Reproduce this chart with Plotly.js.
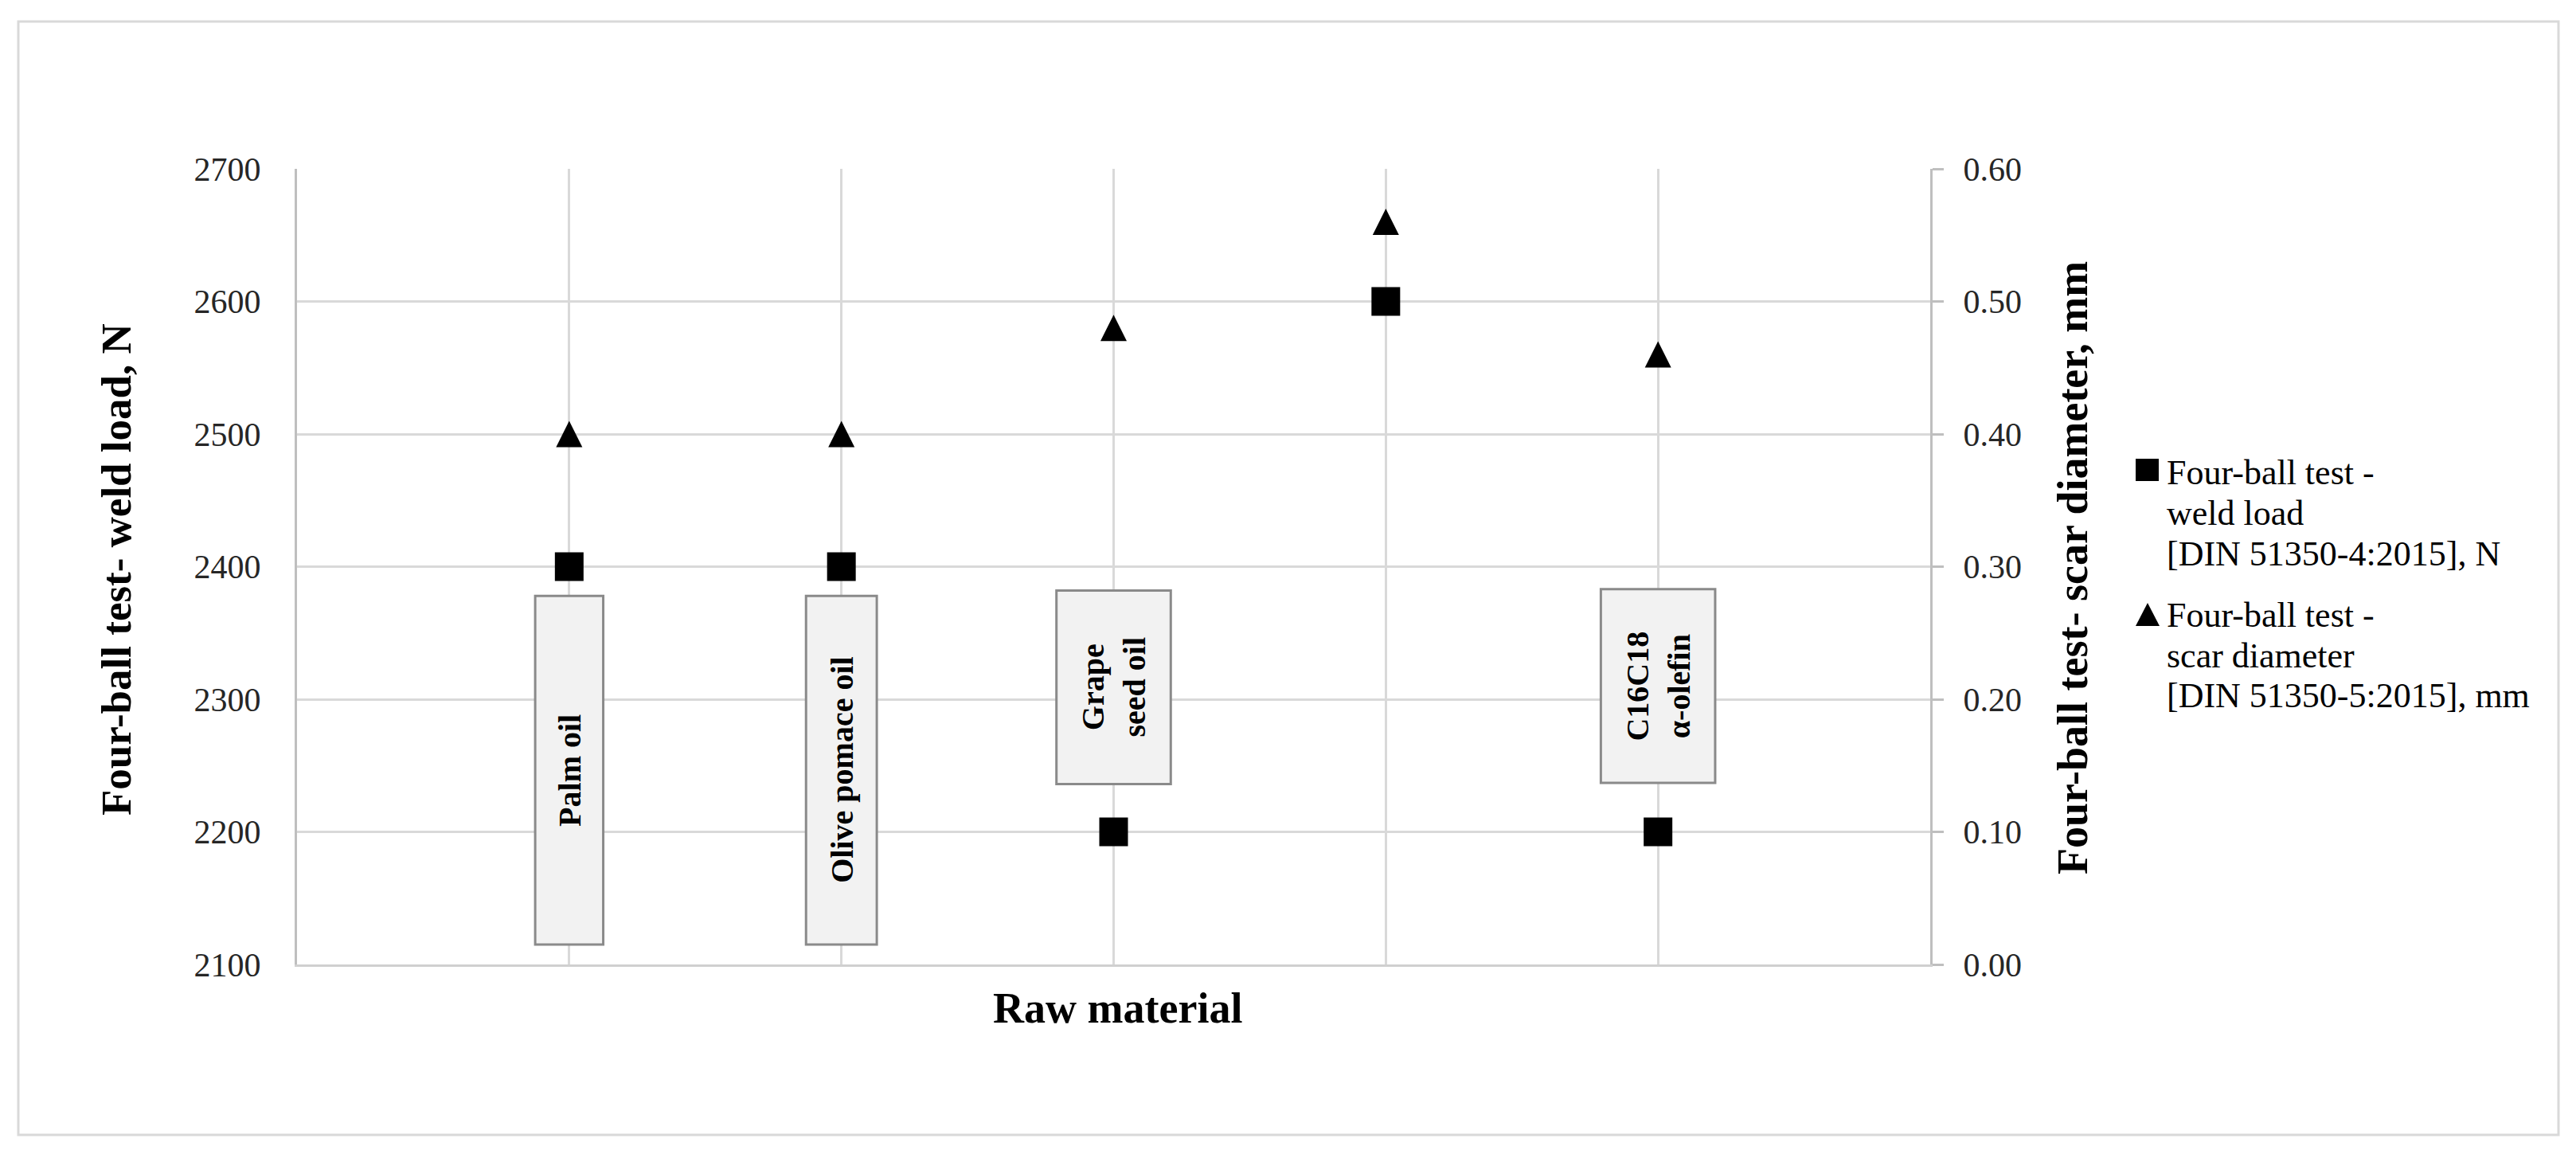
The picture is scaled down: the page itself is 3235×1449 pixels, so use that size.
<!DOCTYPE html>
<html>
<head>
<meta charset="utf-8">
<script src="https://cdn.plot.ly/plotly-3.0.1.min.js"></script>
<style>
  body { margin: 0; background: #fff; }
  #chart { width: 3235px; height: 1449px; }
</style>
</head>
<body>
<div id="chart"></div>
<script>
// Raw materials on the x axis (4th has no label box in the figure)
var materials = ['Palm oil', 'Olive pomace oil', 'Grape seed oil', '', 'C16C18 α-olefin'];
var boxLabels = ['Palm oil', 'Olive pomace oil', 'Grape<br>seed oil', '', 'C16C18<br>α-olefin'];

// Four-ball test - weld load [DIN 51350-4:2015], N
var weldLoad = [2400, 2400, 2200, 2600, 2200];
// Four-ball test - scar diameter [DIN 51350-5:2015], mm
var scarDiameter = [0.40, 0.40, 0.48, 0.56, 0.46];

var leftTicks = [2100, 2200, 2300, 2400, 2500, 2600, 2700];
var rightTicks = [0, 0.1, 0.2, 0.3, 0.4, 0.5, 0.6];

var legendWeld = ['Four-ball test -', 'weld load', '[DIN 51350-4:2015], N'];
var legendScar = ['Four-ball test -', 'scar diameter', '[DIN 51350-5:2015], mm'];

var xPos = materials.map(function (m, i) { return i + 1; });

// plot area in page pixels, used to place the paper-anchored bits
var L = 373, R = 2424, T = 212, B = 1211;
function px(x) { return (x - L) / (R - L); }
function py(y) { return (B - y) / (B - T); }

var serif = 'Liberation Serif, Times New Roman, serif';

var weldTrace = {
    x: xPos,
    y: weldLoad,
    name: 'Four-ball test - weld load [DIN 51350-4:2015], N',
    mode: 'markers',
    type: 'scatter',
    cliponaxis: false,
    marker: { symbol: 'square', size: 36, color: '#000' }
};

// arrow-up has its tip on the point, so the hidden axis is nudged by half a marker
var triSize = 33;
var triShift = (triSize / 2) / (B - T) * 0.6;
var scarTrace = {
    x: xPos,
    y: scarDiameter,
    yaxis: 'y3',
    name: 'Four-ball test - scar diameter [DIN 51350-5:2015], mm',
    mode: 'markers',
    type: 'scatter',
    cliponaxis: false,
    marker: { symbol: 'arrow-up', size: triSize, color: '#000', line: { width: 0 } }
};

// label boxes sitting on the category gridlines (width in category units, y in N)
var boxGeom = [
    { w: 0.25, y0: 2115, y1: 2378 },
    { w: 0.26, y0: 2115, y1: 2378 },
    { w: 0.42, y0: 2236, y1: 2382 },
    null,
    { w: 0.42, y0: 2237, y1: 2383 }
];

var shapes = [];
var annotations = [];

boxGeom.forEach(function (b, i) {
    if (!b) return;
    var cx = xPos[i];
    shapes.push({
        type: 'rect', xref: 'x', yref: 'y',
        x0: cx - b.w / 2, x1: cx + b.w / 2, y0: b.y0, y1: b.y1,
        fillcolor: '#f2f2f2',
        line: { color: '#8a8a8a', width: 3 },
        layer: 'above'
    });
    annotations.push({
        xref: 'x', yref: 'y',
        x: cx, y: (b.y0 + b.y1) / 2,
        text: boxLabels[i],
        showarrow: false,
        textangle: -90,
        align: 'center',
        font: { family: serif, size: 40, color: '#000', weight: 'bold' }
    });
});

// outer frame
shapes.push({
    type: 'rect', xref: 'paper', yref: 'paper',
    x0: px(23), x1: px(3213), y0: py(1425), y1: py(27),
    line: { color: '#d9d9d9', width: 3 },
    fillcolor: 'rgba(0,0,0,0)',
    layer: 'below'
});

// legend symbols
shapes.push({
    type: 'rect', xref: 'paper', yref: 'paper',
    x0: px(2682), x1: px(2711), y0: py(604), y1: py(576),
    fillcolor: '#000', line: { width: 0 }
});
shapes.push({
    type: 'path', xref: 'paper', yref: 'paper',
    path: 'M ' + px(2682) + ' ' + py(786) + ' L ' + px(2712) + ' ' + py(786) +
          ' L ' + px(2697) + ' ' + py(757) + ' Z',
    fillcolor: '#000', line: { width: 0 }
});

// legend texts, one annotation per line to keep the tight line spacing
function legendLines(lines, firstY) {
    lines.forEach(function (t, k) {
        annotations.push({
            xref: 'paper', yref: 'paper', x: px(2719), y: py(firstY + k * 51),
            xanchor: 'left', yanchor: 'middle', align: 'left', showarrow: false,
            text: t,
            font: { family: serif, size: 44, color: '#000' }
        });
    });
}
legendLines(legendWeld, 593);
legendLines(legendScar, 772);

// axis titles
annotations.push({
    xref: 'paper', yref: 'paper', x: px(146), y: py(715),
    xanchor: 'center', yanchor: 'middle', showarrow: false, textangle: -90,
    text: 'Four-ball test- weld load, N',
    font: { family: serif, size: 53, color: '#000', weight: 'bold' }
});
annotations.push({
    xref: 'paper', yref: 'paper', x: px(2603), y: py(713),
    xanchor: 'center', yanchor: 'middle', showarrow: false, textangle: -90,
    text: 'Four-ball test- scar diameter, mm',
    font: { family: serif, size: 54, color: '#000', weight: 'bold' }
});
annotations.push({
    xref: 'paper', yref: 'paper', x: px(1403), y: py(1266),
    xanchor: 'center', yanchor: 'middle', showarrow: false,
    text: 'Raw material',
    font: { family: serif, size: 54, color: '#000', weight: 'bold' }
});

var layout = {
    width: 3235,
    height: 1449,
    autosize: false,
    showlegend: false,
    paper_bgcolor: '#fff',
    plot_bgcolor: '#fff',
    margin: { l: L, r: 3235 - R, t: T, b: 1449 - B, pad: 0 },
    font: { family: serif, color: '#000' },
    xaxis: {
        range: [0, xPos.length + 1],
        tickvals: xPos,
        showticklabels: false,
        ticks: '',
        showgrid: true,
        gridcolor: '#d9d9d9',
        gridwidth: 3,
        zeroline: false,
        showline: true,
        linecolor: '#d0d0d0',
        linewidth: 3
    },
    yaxis: {
        range: [2100, 2700],
        tickvals: leftTicks,
        ticks: '',
        ticklabelstandoff: 34,
        tickfont: { family: serif, size: 42, color: '#262626' },
        showgrid: true,
        gridcolor: '#d9d9d9',
        gridwidth: 3,
        zeroline: false,
        showline: true,
        linecolor: '#bfbfbf',
        linewidth: 3
    },
    yaxis2: {
        overlaying: 'y',
        side: 'right',
        range: [0, 0.6],
        tickvals: rightTicks,
        tickformat: '.2f',
        ticks: 'outside',
        ticklen: 14,
        tickwidth: 3,
        tickcolor: '#bfbfbf',
        ticklabelstandoff: 16,
        tickfont: { family: serif, size: 42, color: '#262626' },
        showgrid: false,
        zeroline: false,
        showline: true,
        linecolor: '#bfbfbf',
        linewidth: 3
    },
    yaxis3: {
        overlaying: 'y',
        range: [0 - triShift, 0.6 - triShift],
        visible: false
    },
    shapes: shapes,
    annotations: annotations
};

// keep an empty trace on y2 so the right axis is drawn
var rightAxisTrace = { x: [], y: [], yaxis: 'y2', type: 'scatter', mode: 'markers', hoverinfo: 'skip' };

Plotly.newPlot('chart', [weldTrace, scarTrace, rightAxisTrace], layout, { staticPlot: true });
</script>
</body>
</html>
